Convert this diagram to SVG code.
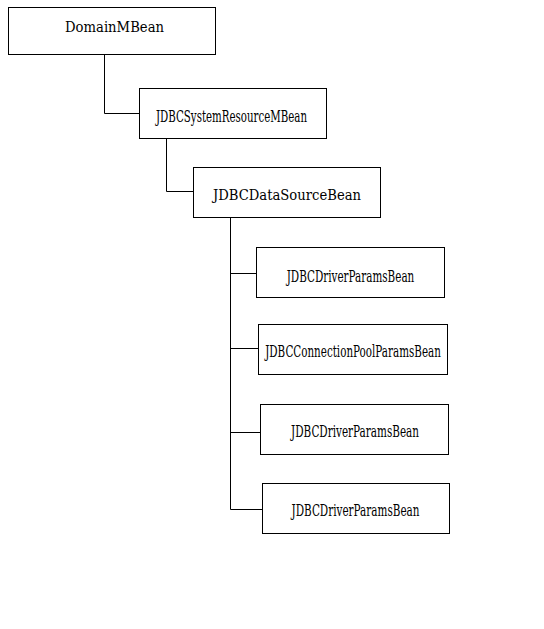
<svg xmlns="http://www.w3.org/2000/svg" width="544" height="629" viewBox="0 0 544 629">
<style>
rect{fill:#fff;stroke:#000;stroke-width:1}
.c path{fill:none;stroke:#000;stroke-width:1}
text{font-family:"DejaVu Serif",serif;fill:#000;text-anchor:middle}
.big{font-size:14px}
.small{font-size:16px}
</style>
<rect x="0" y="0" width="544" height="629" style="fill:#fff;stroke:none"/>
<g class="c" id="connectors">
<path d="M104.5 54V113.5H139"/>
<path d="M166.5 139V191.5H193"/>
<path d="M230.5 218V509.5H262"/>
<path d="M230.5 273.5H256"/>
<path d="M230.5 348.5H258"/>
<path d="M230.5 432.5H260"/>
</g>
<g id="DomainMBean"><rect x="8.5" y="7.5" width="207" height="47"/><text class="big" x="114.5" y="32" textLength="99" lengthAdjust="spacingAndGlyphs">DomainMBean</text></g>
<g id="JDBCSystemResourceMBean"><rect x="139.5" y="88.5" width="187" height="50"/><text class="small" x="231.5" y="121.5" textLength="151" lengthAdjust="spacingAndGlyphs">JDBCSystemResourceMBean</text></g>
<g id="JDBCDataSourceBean"><rect x="193.5" y="167.5" width="187" height="50"/><text class="big" x="287" y="199.5" textLength="148" lengthAdjust="spacingAndGlyphs">JDBCDataSourceBean</text></g>
<g id="JDBCDriverParamsBean1"><rect x="256.5" y="247.5" width="188" height="50"/><text class="small" x="350.5" y="281.5" textLength="127.6" lengthAdjust="spacingAndGlyphs">JDBCDriverParamsBean</text></g>
<g id="JDBCConnectionPoolParamsBean"><rect x="258.5" y="324.5" width="189" height="50"/><text class="small" x="353" y="356.5" textLength="175.7" lengthAdjust="spacingAndGlyphs">JDBCConnectionPoolParamsBean</text></g>
<g id="JDBCDriverParamsBean2"><rect x="260.5" y="404.5" width="188" height="50"/><text class="small" x="355" y="436.5" textLength="128" lengthAdjust="spacingAndGlyphs">JDBCDriverParamsBean</text></g>
<g id="JDBCDriverParamsBean3"><rect x="262.5" y="483.5" width="187" height="50"/><text class="small" x="355.5" y="516" textLength="128" lengthAdjust="spacingAndGlyphs">JDBCDriverParamsBean</text></g>
</svg>
